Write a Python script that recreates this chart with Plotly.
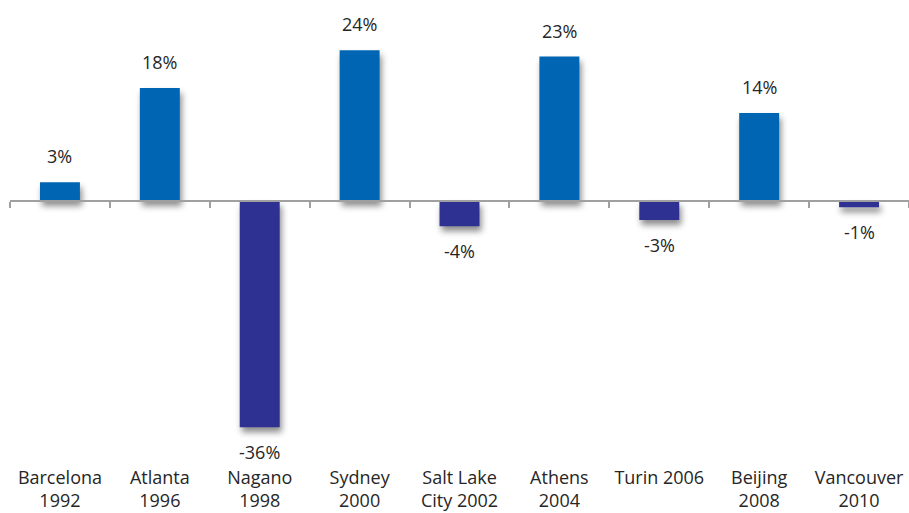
import plotly.graph_objects as go

# Host-city categories and percentage change values
cities = ["Barcelona<br>1992", "Atlanta<br>1996", "Nagano<br>1998", "Sydney<br>2000",
          "Salt Lake<br>City 2002", "Athens<br>2004", "Turin 2006", "Beijing<br>2008",
          "Vancouver<br>2010"]
values = [3, 18, -36, 24, -4, 23, -3, 14, -1]
labels = [f"{v}%" for v in values]

POS_COLOR = "#0066B3"
NEG_COLOR = "#2E3192"
TEXT_COLOR = "#262626"
FONT = "'Open Sans', sans-serif"

y_min, y_max = -42.0, 32.0
x_idx = list(range(len(cities)))

fig = go.Figure()
fig.add_trace(go.Bar(
    x=x_idx, y=values,
    marker=dict(color=[POS_COLOR if v >= 0 else NEG_COLOR for v in values], line_width=0),
    width=0.4,
    hoverinfo="skip",
))
# Invisible trace so the zero-line axis is rendered
fig.add_trace(go.Scatter(x=[-0.5, 8.5], y=[0, 0], xaxis="x2", mode="lines",
                         line=dict(width=0), hoverinfo="skip", showlegend=False))

for i, (v, t) in enumerate(zip(values, labels)):
    fig.add_annotation(x=i, y=v, text=t, showarrow=False,
                       yshift=26 if v >= 0 else -25, yanchor="middle",
                       font=dict(size=18, color=TEXT_COLOR, family=FONT))

zero_frac = (0 - y_min) / (y_max - y_min)

fig.update_layout(
    width=909, height=513,
    margin=dict(l=10, r=0, t=0, b=48),
    paper_bgcolor="white", plot_bgcolor="white",
    showlegend=False,
    font=dict(family=FONT, size=18, color=TEXT_COLOR),
    xaxis=dict(range=[-0.5, 8.5], tickvals=x_idx, ticktext=cities,
               showgrid=False, zeroline=False, showline=False, ticks="",
               tickfont=dict(size=18, color=TEXT_COLOR, family=FONT)),
    xaxis2=dict(overlaying="x", anchor="free", position=zero_frac, side="bottom",
                range=[-0.5, 8.5], tick0=-0.5, dtick=1, showticklabels=False,
                showline=True, linecolor="#A0A0A0", linewidth=1.5,
                ticks="outside", ticklen=6, tickwidth=1.5, tickcolor="#A0A0A0",
                showgrid=False, zeroline=False),
    yaxis=dict(range=[y_min, y_max], visible=False, showgrid=False, zeroline=False),
)

# Soft drop shadow beneath the bars
shadow_js = """
document.querySelectorAll('.bars .point path').forEach(function(p){
  p.style.filter = 'drop-shadow(2px 5px 3px rgba(0,0,0,0.45))';
});
"""

fig.write_html("out.html", post_script=shadow_js)
